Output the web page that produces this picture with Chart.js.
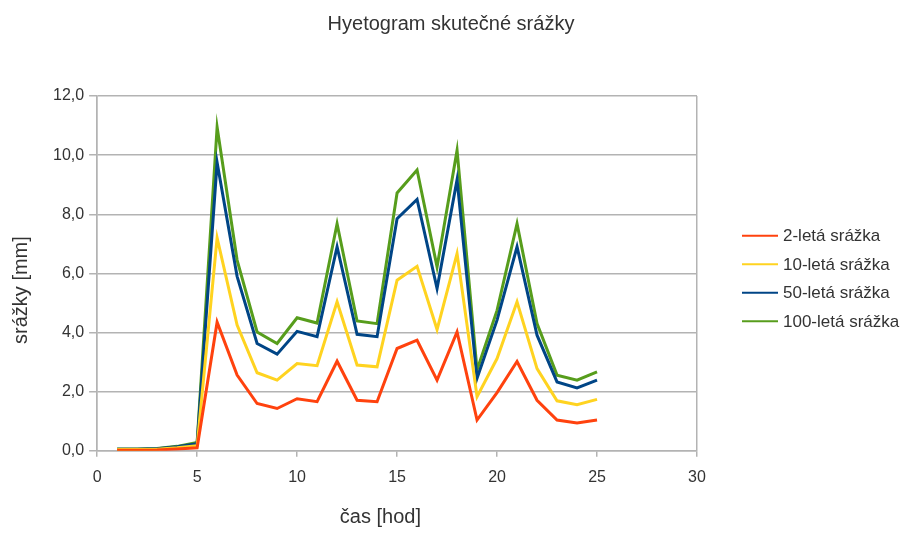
<!DOCTYPE html>
<html>
<head>
<meta charset="utf-8">
<title>Hyetogram skutečné srážky</title>
<script src="https://cdn.jsdelivr.net/npm/chart.js@4/dist/chart.umd.min.js"></script>
<style>
  html, body { margin: 0; padding: 0; background: #fff; }
  #wrap { width: 902px; height: 536px; }
</style>
</head>
<body>
<div id="wrap"><canvas id="chart" width="902" height="536"></canvas></div>
<script>
// hours 1..25
const hours = [1, 2, 3, 4, 5, 6, 7, 8, 9, 10, 11, 12, 13, 14, 15, 16, 17, 18, 19, 20, 21, 22, 23, 24, 25];

// rainfall per hour [mm] for each return period
const rain2 = [0.02, 0.02, 0.03, 0.06, 0.10, 4.35, 2.56, 1.60, 1.43, 1.76, 1.66, 3.03, 1.71, 1.66, 3.46, 3.74, 2.39, 4.02, 1.04, 1.97, 3.02, 1.71, 1.04, 0.94, 1.04];
const rain10 = [0.04, 0.04, 0.05, 0.10, 0.17, 7.20, 4.25, 2.64, 2.39, 2.95, 2.88, 5.04, 2.90, 2.84, 5.77, 6.24, 4.10, 6.67, 1.83, 3.12, 5.04, 2.78, 1.69, 1.56, 1.74];
const rain50 = [0.05, 0.05, 0.07, 0.14, 0.24, 9.75, 5.90, 3.63, 3.27, 4.04, 3.86, 6.90, 3.94, 3.86, 7.85, 8.50, 5.49, 9.17, 2.45, 4.42, 6.90, 3.91, 2.33, 2.13, 2.39];
const rain100 = [0.06, 0.06, 0.08, 0.15, 0.28, 10.95, 6.45, 4.02, 3.63, 4.50, 4.32, 7.68, 4.39, 4.30, 8.72, 9.50, 6.22, 10.16, 2.73, 4.75, 7.68, 4.30, 2.56, 2.39, 2.67];

const seriesLabels = ['2-letá srážka', '10-letá srážka', '50-letá srážka', '100-letá srážka'];
const seriesColors = ['#ff420e', '#ffd320', '#004586', '#579d1c'];

const gridGray = '#b3b3b3';
const textColor = '#333';
const fontFamily = '"Liberation Sans", Arial, sans-serif';

function points(values) {
    return hours.map((h, i) => ({ x: h, y: values[i] }));
}

const datasets = [rain2, rain10, rain50, rain100].map((values, i) => ({
    label: seriesLabels[i],
    data: points(values),
    borderColor: seriesColors[i],
    backgroundColor: seriesColors[i],
    borderWidth: 3,
    pointRadius: 0,
    tension: 0,
    fill: false
}));

// Legend drawn in the right margin, a bit away from the plot frame
const sideLegend = {
    id: 'sideLegend',
    afterDraw(chart, args, opts) {
        const ctx = chart.ctx;
        const area = chart.chartArea;
        const sets = chart.data.datasets;
        const x0 = area.right + opts.gap;
        const yMid = (area.top + area.bottom) / 2 + opts.shiftY;
        const y0 = yMid - (sets.length - 1) * opts.rowHeight / 2;

        ctx.save();
        ctx.font = opts.fontSize + 'px ' + fontFamily;
        ctx.textBaseline = 'middle';
        ctx.textAlign = 'left';
        sets.forEach((ds, i) => {
            const y = y0 + i * opts.rowHeight;
            ctx.strokeStyle = ds.borderColor;
            ctx.lineWidth = 2;
            ctx.beginPath();
            ctx.moveTo(x0, y);
            ctx.lineTo(x0 + opts.lineLength, y);
            ctx.stroke();
            ctx.fillStyle = textColor;
            ctx.fillText(ds.label, x0 + opts.lineLength + 5, y + 1);
        });
        ctx.restore();
    }
};

new Chart(document.getElementById('chart').getContext('2d'), {
    type: 'line',
    data: { datasets: datasets },
    plugins: [sideLegend],
    options: {
        responsive: false,
        animation: false,
        layout: {
            padding: 0
        },
        plugins: {
            title: {
                display: true,
                text: 'Hyetogram skutečné srážky',
                color: textColor,
                font: { family: fontFamily, size: 20, weight: 'normal' },
                padding: { top: 12, bottom: 60 }
            },
            legend: { display: false },
            sideLegend: {
                gap: 45,
                lineLength: 36,
                rowHeight: 28.5,
                shiftY: 5,
                fontSize: 17
            },
            tooltip: { enabled: false }
        },
        scales: {
            x: {
                type: 'linear',
                min: 0,
                max: 30,
                ticks: {
                    stepSize: 5,
                    color: textColor,
                    padding: 11,
                    font: { family: fontFamily, size: 16 }
                },
                grid: {
                    // only the frame lines at 0 and 30, no inner verticals
                    color: ctx => (ctx.tick && (ctx.tick.value === 0 || ctx.tick.value === 30)) ? gridGray : 'rgba(0,0,0,0)',
                    tickColor: gridGray,
                    tickLength: 6,
                    lineWidth: 1.5
                },
                border: { color: gridGray, width: 1.5 },
                title: {
                    display: true,
                    text: 'čas [hod]      ',
                    color: textColor,
                    font: { family: fontFamily, size: 20 },
                    padding: { top: 7, bottom: 7 }
                }
            },
            y: {
                min: 0,
                max: 12,
                ticks: {
                    stepSize: 2,
                    color: textColor,
                    padding: 5,
                    font: { family: fontFamily, size: 16 },
                    callback: v => v.toFixed(1).replace('.', ',')
                },
                grid: {
                    color: gridGray,
                    tickColor: gridGray,
                    tickLength: 8,
                    lineWidth: 1.5
                },
                border: { color: gridGray, width: 1.5 },
                title: {
                    display: true,
                    text: 'srážky [mm]      ',
                    color: textColor,
                    font: { family: fontFamily, size: 20 },
                    padding: { top: 9, bottom: 15 }
                }
            },
            // empty strip on the right that holds the legend
            legendSpace: {
                type: 'linear',
                position: 'right',
                afterFit: s => { s.width = 205; },
                grid: { display: false },
                ticks: { display: false },
                border: { display: false }
            }
        }
    }
});
</script>
</body>
</html>
